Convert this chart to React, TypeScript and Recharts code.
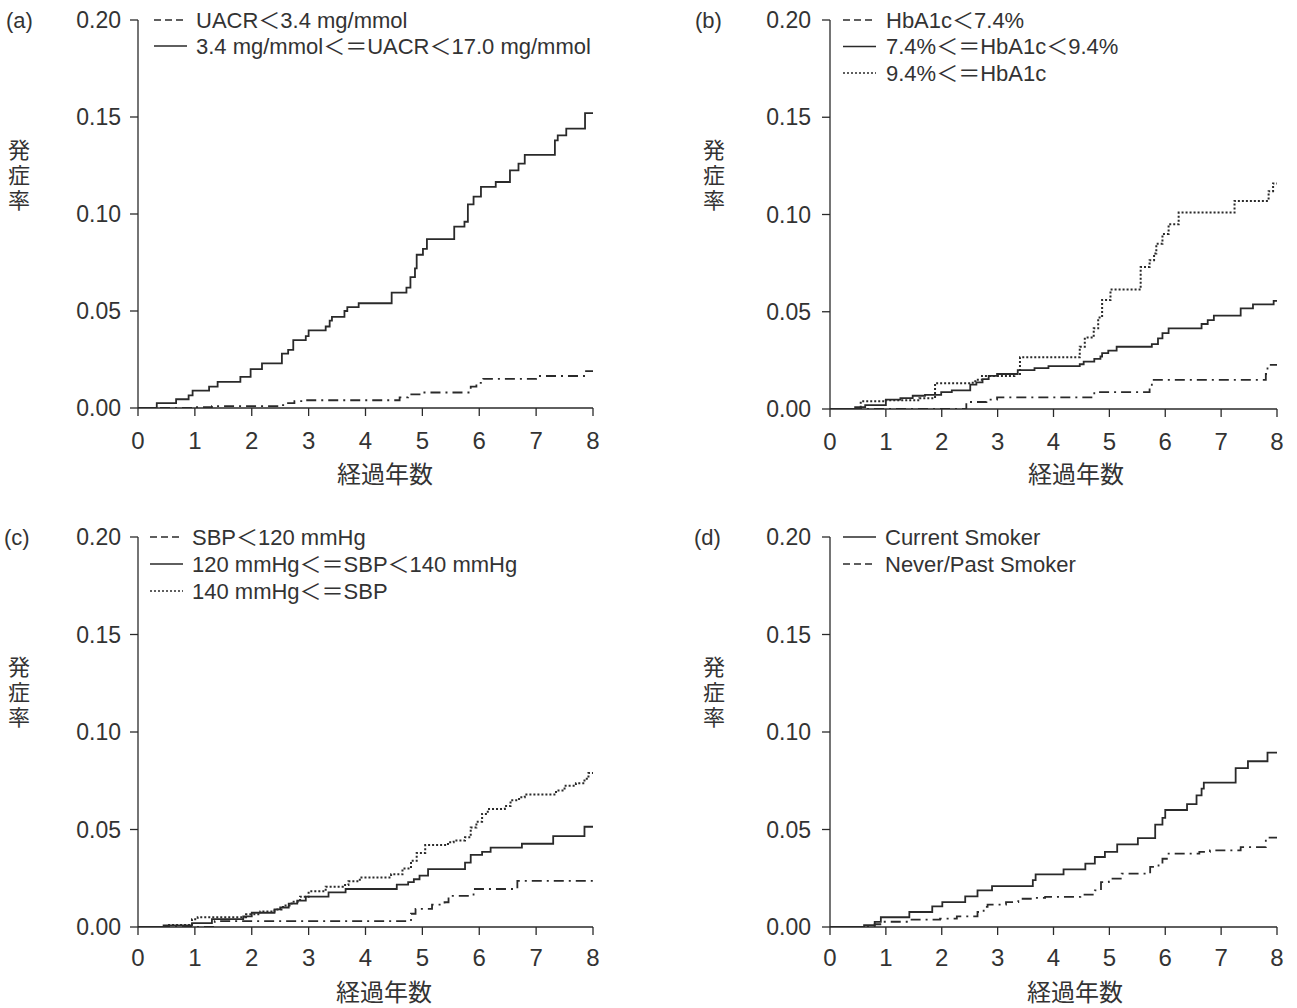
import React from "react";
import { LineChart, Line, XAxis, YAxis } from "recharts";

type Pt = [number, number];

// (a) UACR groups
const uacrLow: Pt[] = [
  [0, 0], [0.95, 0.0005], [1.3, 0.001], [2.45, 0.0015], [2.6, 0.0025], [2.75, 0.0035],
  [2.9, 0.004], [4.6, 0.0055], [4.75, 0.007], [4.95, 0.008], [5.85, 0.011], [5.95, 0.013],
  [6.07, 0.015], [7.0, 0.0165], [7.86, 0.019], [8, 0.019],
];
const uacrMid: Pt[] = [
  [0, 0], [0.33, 0.0025], [0.67, 0.0045], [0.89, 0.0065], [0.96, 0.009], [1.25, 0.011],
  [1.4, 0.0135], [1.8, 0.016], [1.98, 0.02], [2.18, 0.023], [2.53, 0.028], [2.64, 0.03],
  [2.73, 0.035], [2.95, 0.037], [3.0, 0.04], [3.3, 0.042], [3.37, 0.045], [3.41, 0.047],
  [3.63, 0.05], [3.68, 0.052], [3.88, 0.054], [4.46, 0.0595], [4.72, 0.062], [4.79, 0.0675],
  [4.87, 0.072], [4.9, 0.079], [5.01, 0.082], [5.08, 0.087], [5.56, 0.0935], [5.74, 0.096],
  [5.8, 0.105], [5.9, 0.109], [6.03, 0.114], [6.29, 0.1165], [6.54, 0.1225], [6.69, 0.126],
  [6.8, 0.1305], [7.33, 0.138], [7.38, 0.1405], [7.53, 0.144], [7.86, 0.152], [8, 0.152],
];

// (b) HbA1c groups
const hbLow: Pt[] = [
  [0, 0], [2.44, 0.0036], [2.8, 0.0048], [2.99, 0.006], [4.73, 0.0087], [5.72, 0.0107],
  [5.76, 0.015], [7.8, 0.018], [7.83, 0.0227], [8, 0.0227],
];
const hbMid: Pt[] = [
  [0, 0], [0.45, 0.001], [0.63, 0.002], [1.0, 0.0048], [1.26, 0.0056], [1.48, 0.0068],
  [1.7, 0.0073], [1.99, 0.0087], [2.18, 0.0096], [2.51, 0.0125], [2.62, 0.0137], [2.73, 0.0154],
  [2.84, 0.017], [2.99, 0.018], [3.36, 0.02], [3.66, 0.021], [3.91, 0.022], [4.47, 0.023],
  [4.54, 0.0244], [4.73, 0.0258], [4.84, 0.027], [4.87, 0.0287], [4.98, 0.03], [5.13, 0.032],
  [5.76, 0.0334], [5.87, 0.0363], [5.95, 0.039], [6.06, 0.0415], [6.65, 0.0437], [6.76, 0.0457],
  [6.87, 0.048], [7.35, 0.0517], [7.57, 0.0538], [7.94, 0.0556], [8, 0.0556],
];
const hbHigh: Pt[] = [
  [0, 0], [0.55, 0.004], [1.0, 0.0045], [1.6, 0.0055], [1.88, 0.0133], [2.51, 0.0135],
  [2.6, 0.015], [2.72, 0.017], [3.3, 0.018], [3.4, 0.0266], [4.47, 0.032], [4.56, 0.0367],
  [4.72, 0.0415], [4.8, 0.047], [4.87, 0.056], [5.02, 0.0614], [5.56, 0.073], [5.72, 0.0765],
  [5.8, 0.08], [5.84, 0.085], [5.95, 0.09], [6.06, 0.095], [6.24, 0.101], [7.24, 0.107],
  [7.85, 0.112], [7.93, 0.116], [8, 0.116],
];

// (c) SBP groups
const sbpLow: Pt[] = [
  [0, 0], [1.35, 0.003], [4.8, 0.0068], [4.88, 0.0093], [5.17, 0.0115], [5.39, 0.0127],
  [5.46, 0.016], [5.9, 0.0195], [6.67, 0.0237], [8, 0.0237],
];
const sbpMid: Pt[] = [
  [0, 0], [0.45, 0.0008], [0.95, 0.002], [1.3, 0.004], [1.85, 0.0055], [2.0, 0.0073],
  [2.4, 0.009], [2.5, 0.01], [2.65, 0.012], [2.8, 0.0135], [2.95, 0.0156], [3.35, 0.0178],
  [3.65, 0.0195], [4.55, 0.0217], [4.75, 0.023], [4.85, 0.0245], [4.95, 0.0263], [5.1, 0.0297],
  [5.75, 0.033], [5.85, 0.037], [6.05, 0.0385], [6.2, 0.0407], [6.75, 0.0427], [7.3, 0.0466],
  [7.85, 0.0514], [8, 0.0514],
];
const sbpHigh: Pt[] = [
  [0, 0], [0.5, 0.001], [0.95, 0.004], [1.05, 0.005], [1.9, 0.0065], [2.15, 0.008],
  [2.4, 0.009], [2.55, 0.011], [2.7, 0.013], [2.85, 0.0155], [3.0, 0.0183], [3.3, 0.0207],
  [3.6, 0.0215], [3.7, 0.0234], [3.9, 0.0254], [4.45, 0.027], [4.65, 0.03], [4.8, 0.034],
  [4.9, 0.038], [5.05, 0.042], [5.45, 0.0435], [5.55, 0.0444], [5.75, 0.046], [5.85, 0.051],
  [5.95, 0.054], [6.05, 0.058], [6.15, 0.0605], [6.45, 0.062], [6.55, 0.065], [6.7, 0.0665],
  [6.8, 0.068], [7.35, 0.07], [7.5, 0.0725], [7.7, 0.0737], [7.85, 0.076], [7.92, 0.079],
  [8, 0.08],
];

// (d) smoking status
const smokeCurrent: Pt[] = [
  [0, 0], [0.61, 0.0009], [0.8, 0.0026], [0.91, 0.005], [1.42, 0.0077], [1.83, 0.0106],
  [2.01, 0.0128], [2.42, 0.0157], [2.64, 0.0188], [2.9, 0.021], [3.63, 0.024], [3.68, 0.027],
  [4.18, 0.0296], [4.57, 0.0325], [4.74, 0.0359], [4.92, 0.0385], [5.14, 0.0424], [5.51, 0.0456],
  [5.82, 0.0525], [5.95, 0.056], [6.0, 0.06], [6.39, 0.063], [6.56, 0.0675], [6.65, 0.071],
  [6.69, 0.074], [7.26, 0.0815], [7.48, 0.085], [7.83, 0.0894], [8, 0.0894],
];
const smokeNever: Pt[] = [
  [0, 0], [0.8, 0.0014], [0.94, 0.0027], [1.46, 0.0038], [1.97, 0.0043], [2.27, 0.0055],
  [2.64, 0.0077], [2.75, 0.0103], [2.82, 0.0115], [3.15, 0.0128], [3.37, 0.0145], [3.63, 0.0149],
  [3.85, 0.0154], [4.48, 0.0166], [4.74, 0.0188], [4.85, 0.023], [4.99, 0.0248], [5.22, 0.0274],
  [5.73, 0.0308], [5.88, 0.0325], [5.95, 0.035], [6.06, 0.0376], [6.61, 0.0385], [6.8, 0.0393],
  [7.35, 0.041], [7.8, 0.0458], [8, 0.0458],
];

const X_TICKS = [0, 1, 2, 3, 4, 5, 6, 7, 8];
const Y_TICKS = [0, 0.05, 0.1, 0.15, 0.2];

const LABELS_A = ["UACR＜3.4 mg/mmol", "3.4 mg/mmol＜＝UACR＜17.0 mg/mmol"];
const LABELS_B = ["HbA1c＜7.4%", "7.4%＜＝HbA1c＜9.4%", "9.4%＜＝HbA1c"];
const LABELS_C = ["SBP＜120 mmHg", "120 mmHg＜＝SBP＜140 mmHg", "140 mmHg＜＝SBP"];
const LABELS_D = ["Current Smoker", "Never/Past Smoker"];

const X_TITLE = "経過年数";
const Y_TITLE = "発症率";

const FONT = '"Liberation Sans", Arial, "Noto Sans CJK JP", sans-serif';
const CJK = '"Noto Sans CJK JP", "Noto Sans CJK SC", sans-serif';
const INK = "#2a2a2a";
const TEXT = "#333";

type LineStyle = "solid" | "dashdot" | "dotted";

const plotDash = (s: LineStyle) =>
  s === "dashdot" ? "10 5 2 5" : s === "dotted" ? "2 2" : undefined;
const legendDash = (s: LineStyle) =>
  s === "dashdot" ? "7 4" : s === "dotted" ? "2 2" : undefined;

interface Series {
  name: string;
  pts: Pt[];
  style: LineStyle;
}

interface PanelSpec {
  tag: string;
  left: number;
  top: number;
  width: number;
  height: number;
  plotL: number;
  plotT: number;
  plotR: number;
  plotB: number;
  series: Series[];
  tagX: number;
  sampleX: number;
  textX: number;
  rowGap: number;
  yTickMargin: number;
  xTickMargin: number;
  titleX: number;
  titleBase: number;
  yTitleX: number;
  yTitleTop: number;
}

const PANELS: PanelSpec[] = [
  {
    tag: "(a)", left: 0, top: 0, width: 650, height: 504,
    plotL: 138, plotT: 20, plotR: 593, plotB: 408,
    series: [
      { name: LABELS_A[0], pts: uacrLow, style: "dashdot" },
      { name: LABELS_A[1], pts: uacrMid, style: "solid" },
    ],
    tagX: 6, sampleX: 154, textX: 196, rowGap: 26,
    yTickMargin: 9, xTickMargin: 16,
    titleX: 385, titleBase: 483, yTitleX: 19, yTitleTop: 139,
  },
  {
    tag: "(b)", left: 650, top: 0, width: 647, height: 504,
    plotL: 830, plotT: 20, plotR: 1277, plotB: 409,
    series: [
      { name: LABELS_B[0], pts: hbLow, style: "dashdot" },
      { name: LABELS_B[1], pts: hbMid, style: "solid" },
      { name: LABELS_B[2], pts: hbHigh, style: "dotted" },
    ],
    tagX: 695, sampleX: 843, textX: 886, rowGap: 26.5,
    yTickMargin: 11, xTickMargin: 16,
    titleX: 1076, titleBase: 483, yTitleX: 714, yTitleTop: 139,
  },
  {
    tag: "(c)", left: 0, top: 504, width: 650, height: 504,
    plotL: 138, plotT: 537, plotR: 593, plotB: 927,
    series: [
      { name: LABELS_C[0], pts: sbpLow, style: "dashdot" },
      { name: LABELS_C[1], pts: sbpMid, style: "solid" },
      { name: LABELS_C[2], pts: sbpHigh, style: "dotted" },
    ],
    tagX: 4, sampleX: 150, textX: 192, rowGap: 27,
    yTickMargin: 9, xTickMargin: 14,
    titleX: 384, titleBase: 1001, yTitleX: 19, yTitleTop: 656,
  },
  {
    tag: "(d)", left: 650, top: 504, width: 647, height: 504,
    plotL: 830, plotT: 537, plotR: 1277, plotB: 927,
    series: [
      { name: LABELS_D[0], pts: smokeCurrent, style: "solid" },
      { name: LABELS_D[1], pts: smokeNever, style: "dashdot" },
    ],
    tagX: 694, sampleX: 843, textX: 885, rowGap: 27,
    yTickMargin: 11, xTickMargin: 14,
    titleX: 1075, titleBase: 1001, yTitleX: 714, yTitleTop: 656,
  },
];

function Panel({ spec }: { spec: PanelSpec }) {
  const { left, top, width, height } = spec;
  const yW = spec.plotL - left;
  const mTop = spec.plotT - top;
  const mRight = left + width - spec.plotR;
  const xH = top + height - spec.plotB;
  const tick = { fill: TEXT, fontSize: 23, fontFamily: FONT };

  return (
    <>
      <div style={{ position: "absolute", left, top }}>
        <LineChart width={width} height={height} margin={{ top: mTop, right: mRight, left: 0, bottom: 0 }}>
          <XAxis
            type="number"
            dataKey="t"
            domain={[0, 8]}
            ticks={X_TICKS}
            interval={0}
            allowDataOverflow
            height={xH}
            tickSize={8}
            tickMargin={spec.xTickMargin}
            axisLine={{ stroke: INK, strokeWidth: 1.3 }}
            tickLine={{ stroke: INK, strokeWidth: 1.3 }}
            tick={{ ...tick, fontSize: 24 }}
          />
          <YAxis
            type="number"
            domain={[0, 0.2]}
            ticks={Y_TICKS}
            interval={0}
            allowDataOverflow
            width={yW}
            tickSize={8}
            tickMargin={spec.yTickMargin}
            tickFormatter={(v: number) => v.toFixed(2)}
            axisLine={{ stroke: INK, strokeWidth: 1.3 }}
            tickLine={{ stroke: INK, strokeWidth: 1.3 }}
            tick={tick}
          />
          {spec.series.map((s) => (
            <Line
              key={s.name}
              name={s.name}
              data={s.pts.map(([t, y]) => ({ t, y }))}
              dataKey="y"
              type="stepAfter"
              stroke={INK}
              strokeWidth={s.style === "dotted" ? 2 : 1.8}
              strokeDasharray={plotDash(s.style)}
              dot={false}
              activeDot={false}
              isAnimationActive={false}
            />
          ))}
        </LineChart>
      </div>
      <svg
        width={width}
        height={height}
        style={{ position: "absolute", left, top, pointerEvents: "none", overflow: "visible" }}
      >
        <text x={spec.tagX - left} y={spec.plotT - top} dominantBaseline="central" fontSize={22} fontFamily={FONT} fill={TEXT}>
          {spec.tag}
        </text>
        {spec.series.map((s, i) => {
          const y = spec.plotT - top + i * spec.rowGap;
          return (
            <g key={s.name}>
              <line
                x1={spec.sampleX - left}
                x2={spec.sampleX - left + 33}
                y1={y}
                y2={y}
                stroke={INK}
                strokeWidth={1.6}
                strokeDasharray={legendDash(s.style)}
              />
              <text x={spec.textX - left} y={y} dominantBaseline="central" fontSize={22} fontFamily={FONT} fill={TEXT}>
                {s.name}
              </text>
            </g>
          );
        })}
        <text x={spec.titleX - left} y={spec.titleBase - top} textAnchor="middle" fontSize={24} fontFamily={CJK} fill={TEXT}>
          {X_TITLE}
        </text>
        <text
          x={spec.yTitleX - left}
          y={spec.yTitleTop - top}
          fontSize={22}
          fontFamily={CJK}
          fill={TEXT}
          letterSpacing={3}
          style={{ writingMode: "vertical-rl" }}
        >
          {Y_TITLE}
        </text>
      </svg>
    </>
  );
}

export default function App() {
  return (
    <div style={{ position: "absolute", left: 0, top: 0, width: 1297, height: 1008, background: "#fff" }}>
      {PANELS.map((p) => (
        <Panel key={p.tag} spec={p} />
      ))}
    </div>
  );
}
